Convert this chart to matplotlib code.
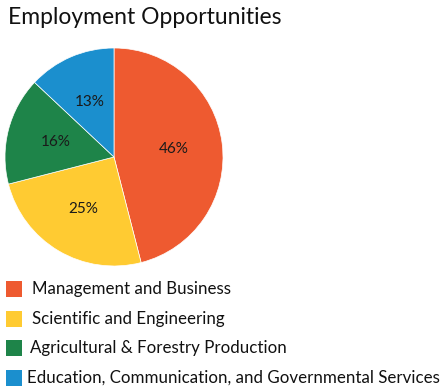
import matplotlib
matplotlib.use("Agg")
import matplotlib.pyplot as plt
from matplotlib.patches import Rectangle

categories = ["Management and Business", "Scientific and Engineering",
              "Agricultural & Forestry Production",
              "Education, Communication, and Governmental Services"]
values = [46, 25, 16, 13]
colors = ["#EE5A30", "#FFCB32", "#1E8449", "#1B8FCE"]
title = "Employment Opportunities"

W, H = 441, 388
fig = plt.figure(figsize=(W / 100, H / 100), dpi=100)
fig.patch.set_facecolor("white")
font = "Lato"

cx, cy, r = 114, 157, 109
ax = fig.add_axes([(cx - r) / W, (H - cy - r) / H, 2 * r / W, 2 * r / H])
wedges, texts, autotexts = ax.pie(values, colors=colors, startangle=90, counterclock=False,
       radius=1, autopct="%d%%", pctdistance=0.55,
       wedgeprops=dict(edgecolor="white", linewidth=0.5),
       textprops=dict(fontsize=11, color="#1a1a1a", family=font))
ax.set_xlim(-1, 1)
ax.set_ylim(-1, 1)
ax.set_aspect("equal")
ax.axis("off")

fig.text(8 / W, 1 - 17 / H, title, fontsize=16.5, family=font, color="#111111",
         va="center", ha="left")

rows = [289, 319, 348, 378]
text_x = [32, 32, 30, 27]
for i, (cat, col) in enumerate(zip(categories, colors)):
    y = rows[i]
    fig.patches.append(Rectangle((6 / W, 1 - (y + 8) / H), 16 / W, 16 / H,
                                 transform=fig.transFigure, facecolor=col,
                                 edgecolor="none"))
    fig.text(text_x[i] / W, 1 - y / H, cat, fontsize=12.2, family=font,
             color="#111111", va="center", ha="left")

fig.savefig("out.png", dpi=100)
